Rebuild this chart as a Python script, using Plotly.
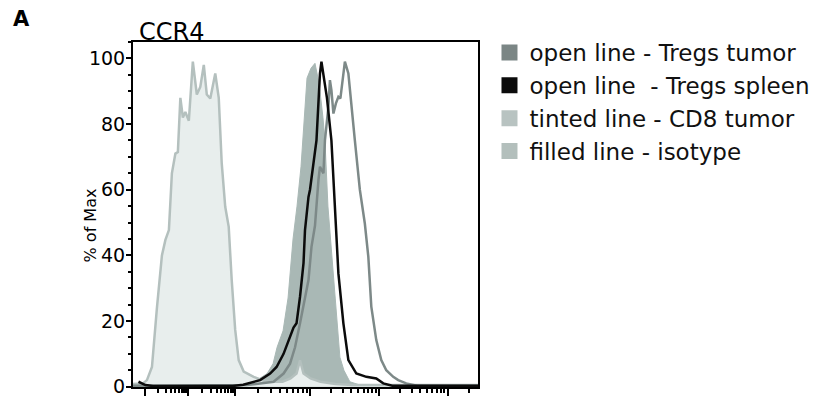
import numpy as np
import plotly.graph_objects as go

# ---- data (x in display channels of the biexponential CCR4 axis, y in % of Max) ----
iso_x = [0, 10, 14, 19, 24, 29, 32.5, 36, 39, 42.5, 45, 47.5, 50, 52.5, 56, 60, 64, 67.5, 71, 74,
         77.5, 82.5, 86, 89, 92.5, 96, 99, 102.5, 106, 111, 121, 131, 141, 150, 158, 164, 167.5,
         171, 178, 188, 203, 220, 346]
iso_y = [0.8, 1, 2, 6, 24, 40, 44.7, 47.7, 65, 71, 71.5, 88, 82, 83.7, 81, 99, 89, 91.3, 98, 89,
         87.8, 95.4, 88, 68, 54.8, 48.7, 32.5, 17.3, 8.1, 4.6, 3, 1.8, 1.5, 1.5, 2.5, 4, 8,
         4, 2.5, 1.5, 0.8, 0.5, 0.5]

cd8_x = [0, 110, 124.5, 134.5, 140.5, 144.5, 150.5, 155.5, 160.5, 164.5, 168.5, 172.5, 174.5,
         178.5, 182.5, 185.5, 187.5, 190.5, 192.5, 195.5, 200.5, 204.5, 207.5, 211.5, 217.5, 227.5, 346]
cd8_y = [0.3, 0.3, 2, 4, 7, 12, 17, 27, 45, 55, 67, 85, 94,
         97, 98.5, 94, 90, 82, 75, 55, 35, 19, 9, 5, 1.5, 0.5, 0.3]

spl_x = [5.5, 12.5, 20, 100, 110.5, 127.5, 137.5, 144, 151, 157.5, 161, 164, 167.5, 171, 172.5,
         176, 177.5, 184, 187.5, 189, 192.5, 194.5, 199, 202.5, 206, 211, 216, 224, 234, 244,
         251, 260, 346]
spl_y = [1.5, 0.5, 0.2, 0.2, 0.6, 2, 4, 6, 10, 15, 18, 19.3, 27.4, 37.6, 47.7,
         57.8, 60, 75, 95.4, 99, 91, 88, 75, 54.8, 34.5, 19.3, 8.1, 4, 3, 2.5,
         1, 0.3, 0.3]

tum_x = [0, 114, 141, 151, 157.5, 162.5, 167.5, 172.5, 176, 179, 182.5, 186, 187.5, 191, 192.5,
         196, 197.5, 199, 201, 203.5, 206, 208, 212.5, 216, 219, 222.5, 227.5, 232.5, 236, 239,
         244, 249, 254, 261, 266, 274, 285, 346]
tum_y = [0.3, 0.5, 1.5, 4, 7, 12, 19.3, 27.4, 32.5, 42.6, 49, 63, 67, 65, 75,
         85.3, 93.4, 90.3, 83.2, 86.3, 88.3, 87.8, 99, 95.4, 85.3, 75, 60, 49.7, 39.6, 24.4,
         14.2, 8.1, 5, 3, 2, 1, 0.3, 0.3]

legend_names = ["open line - Tregs tumor", "open line  - Tregs spleen",
                "tinted line - CD8 tumor", "filled line - isotype"]
legend_colors = ["#7b8685", "#0b0b0b", "#b8c3c1", "#b3bfbc"]

x_major = [12.5, 55.5, 102.5, 177.5, 246.5, 315.5]
y_major = [0, 20, 40, 60, 80, 100]

# minor tick positions of the log-like decades
x_minor = []
for a, b in zip(x_major[:-1], x_major[1:]):
    for k in range(2, 10):
        x_minor.append(a + (b - a) * np.log10(k))
x_minor.append(x_major[-1] + 70 * np.log10(2))

FONT = "DejaVu Sans, Liberation Sans, Arial, sans-serif"

fig = go.Figure()
fig.add_trace(go.Scatter(x=cd8_x, y=cd8_y, mode="lines", fill="tozeroy",
                         fillcolor="#a9b8b5", line=dict(color="#a9b8b5", width=1),
                         showlegend=False, hoverinfo="skip"))
fig.add_trace(go.Scatter(x=iso_x, y=iso_y, mode="lines", fill="tozeroy",
                         fillcolor="#e8eeed", line=dict(color="#b4c0be", width=2.5),
                         showlegend=False, hoverinfo="skip"))
fig.add_trace(go.Scatter(x=tum_x, y=tum_y, mode="lines",
                         line=dict(color="#7d8988", width=2.5), showlegend=False))
fig.add_trace(go.Scatter(x=spl_x, y=spl_y, mode="lines",
                         line=dict(color="#0b0b0b", width=2.5), showlegend=False))

for name, col in zip(legend_names, legend_colors):
    fig.add_trace(go.Scatter(x=[None], y=[None], mode="markers", name=name,
                             marker=dict(symbol="square", size=16, color=col)))

fig.update_layout(
    width=813, height=391,
    margin=dict(l=124.5, r=342.5, t=34, b=12, pad=0, autoexpand=False),
    paper_bgcolor="white", plot_bgcolor="white",
    font=dict(family=FONT, color="black"),
    showlegend=True,
    legend=dict(x=1.0333, y=1.032, xanchor="left", yanchor="top",
                font=dict(size=23, family=FONT, color="#111"),
                bgcolor="rgba(0,0,0,0)", tracegroupgap=0, itemwidth=30),
    xaxis=dict(range=[0, 346], showgrid=False, zeroline=False, automargin=False,
               showline=True, linecolor="black", linewidth=2, mirror=True,
               tickmode="array", tickvals=x_major, showticklabels=False,
               ticks="outside", ticklen=7, tickwidth=2, tickcolor="black",
               minor=dict(tickmode="array", tickvals=x_minor, ticks="outside",
                          ticklen=4, tickwidth=1.5, tickcolor="black")),
    yaxis=dict(range=[-0.1, 105], showgrid=False, zeroline=False, automargin=False,
               showline=True, linecolor="black", linewidth=2, mirror=True,
               tickmode="array", tickvals=y_major, ticktext=[str(v) for v in y_major],
               ticks="outside", ticklen=5, tickwidth=2, tickcolor="black",
               ticklabelstandoff=-3,
               tickfont=dict(size=19, family=FONT, color="black"),
               minor=dict(dtick=5, ticks="outside", ticklen=3, tickwidth=1.5,
                          tickcolor="black")),
    annotations=[
        dict(text="<b>A</b>", x=-0.324, y=1.066, xref="paper", yref="paper",
             xanchor="center", yanchor="middle", showarrow=False,
             font=dict(size=21, family=FONT, color="black")),
        dict(text="CCR4", x=0.012, y=1.029, xref="paper", yref="paper",
             xanchor="left", yanchor="middle", showarrow=False,
             font=dict(size=24, family=FONT, color="black")),
        dict(text="% of Max", x=-0.123, y=0.467, xref="paper", yref="paper",
             xanchor="center", yanchor="middle", textangle=-90, showarrow=False,
             font=dict(size=16, family=FONT, color="black")),
    ],
)

fig.write_html("out.html")
